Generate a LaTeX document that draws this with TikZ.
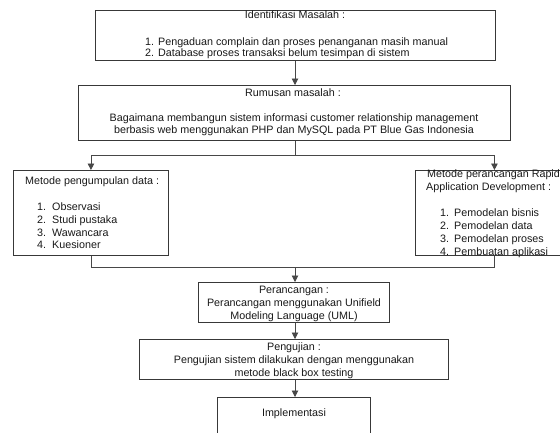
\documentclass[tikz,border=0pt]{standalone}
\usepackage{fontspec}
\setmainfont{Liberation Sans}
\usetikzlibrary{arrows.meta}

\begin{document}
\begin{tikzpicture}[x=1bp,y=-1bp,
  box/.style={draw=black!78, line width=0.9bp, rectangle, inner sep=0pt,
              anchor=north west, minimum width=#1},
  box/.default=100bp,
  txt/.style={inner sep=0pt, text=black!90, font=\fontsize{10.75bp}{12.6bp}\selectfont},
  ctxt/.style={txt, anchor=base},
  ltxt/.style={txt, anchor=base west},
  link/.style={draw=black!72, line width=0.9bp},
  arrow/.style={link, -{Triangle[length=6.5bp,width=6.5bp]}}]

% page frame
\clip (0,0) rectangle (560,432);
\fill[white] (0,0) rectangle (560,432);

% ---- boxes ----
\node[box=400bp, minimum height=50bp] (idf) at (95,10) {};
\node[box=432bp, minimum height=55bp] (rum) at (78,85) {};
\node[box=155bp, minimum height=85bp] (mpd) at (13,170) {};
\node[box=158bp, minimum height=85bp] (rad) at (415,170) {};
\node[box=191bp, minimum height=40bp] (per) at (198,282) {};
\node[box=309bp, minimum height=40bp] (uji) at (139,339) {};
\node[box=153bp, minimum height=50bp] (imp) at (217,397) {};

% ---- texts ----
\node[ctxt] (idf-t) at (295,18.5) {Identifikasi Masalah :};
\node[ltxt] (idf-1) at (145,45.5) {1. Pengaduan complain dan proses penanganan masih manual};
\node[ltxt] (idf-2) at (145,56.5) {2. Database proses transaksi belum tesimpan di sistem};

\node[ctxt] (rum-t) at (293,96.5) {Rumusan masalah :};
\node[ctxt] (rum-1) at (294,121.5) {Bagaimana membangun sistem informasi customer relationship management};
\node[ctxt] (rum-2) at (294,133) {berbasis web menggunakan PHP dan MySQL pada PT Blue Gas Indonesia};

\node[ltxt] (mpd-t) at (25,184) {Metode pengumpulan data :};
\node[ltxt] (mpd-n1) at (37,210.5) {1.};
\node[ltxt] (mpd-1)  at (52,210.5) {Observasi};
\node[ltxt] (mpd-n2) at (37,223.3) {2.};
\node[ltxt] (mpd-2)  at (52,223.3) {Studi pustaka};
\node[ltxt] (mpd-n3) at (37,236) {3.};
\node[ltxt] (mpd-3)  at (52,236) {Wawancara};
\node[ltxt] (mpd-n4) at (37,248.8) {4.};
\node[ltxt] (mpd-4)  at (52,248.8) {Kuesioner};

\node[ltxt] (rad-t1) at (427,177.3) {Metode perancangan Rapid};
\node[ltxt] (rad-t2) at (426,190.7) {Application Development :};
\node[ltxt] (rad-n1) at (440,216) {1.};
\node[ltxt] (rad-1)  at (454,216) {Pemodelan bisnis};
\node[ltxt] (rad-n2) at (440,229.3) {2.};
\node[ltxt] (rad-2)  at (454,229.3) {Pemodelan data};
\node[ltxt] (rad-n3) at (440,242.6) {3.};
\node[ltxt] (rad-3)  at (454,242.6) {Pemodelan proses};
\node[ltxt] (rad-n4) at (440,255.8) {4.};
\node[ltxt] (rad-4)  at (454,255.8) {Pembuatan aplikasi};

\node[ctxt] (per-t) at (294,293.3) {Perancangan :};
\node[ctxt] (per-1) at (294,306.3) {Perancangan menggunakan Unifield};
\node[ctxt] (per-2) at (294,319.3) {Modeling Language (UML)};

\node[ctxt] (uji-t) at (294,350.7) {Pengujian :};
\node[ctxt] (uji-1) at (294,363.5) {Pengujian sistem dilakukan dengan menggunakan};
\node[ctxt] (uji-2) at (294,376.5) {metode black box testing};

\node[ctxt] (imp-t) at (294,416) {Implementasi};

% ---- connectors ----
\coordinate (split) at (295,155);
\coordinate (merge) at (295,267.5);

\draw[arrow] (idf.south -| split) -- (rum.north -| split);
\draw[link] (rum.south -| split) -- (split);
\draw[arrow] (split) -| (mpd.north);
\draw[arrow] (split) -| (rad.north);
\draw[link] (mpd.south) |- (merge);
\draw[link] (rad.south) |- (merge);
\draw[arrow] (merge) -- (per.north -| merge);
\draw[arrow] (per.south -| merge) -- (uji.north -| merge);
\draw[arrow] (uji.south -| merge) -- (imp.north -| merge);
\end{tikzpicture}
\end{document}
